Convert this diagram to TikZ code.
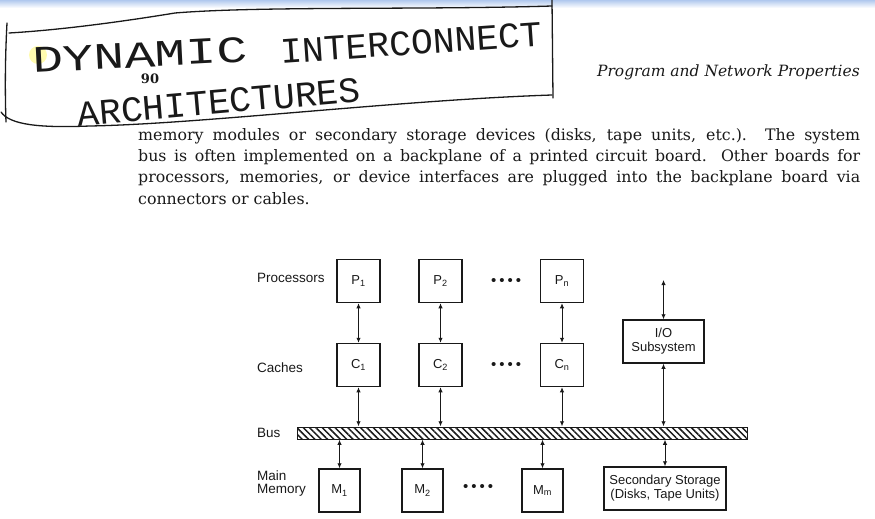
\documentclass[tikz,border=0pt]{standalone}
\usepackage{fontspec}
\usepackage{tikz}
\usetikzlibrary{arrows.meta, patterns.meta, positioning, calc}
\setmainfont{DejaVu Serif}
\newfontfamily\diagfont{Liberation Sans}
\newfontfamily\handfont{Liberation Mono}
\definecolor{ink}{RGB}{25,25,25}
\definecolor{bandblue}{RGB}{176,200,238}
\tikzset{
  box/.style={draw=ink, line width=1.5pt, minimum width=43pt, minimum height=43pt,
    inner sep=0pt, align=center, font={\diagfont\fontsize{13}{14}\selectfont}, text=ink},
  rowlabel/.style={anchor=west, inner sep=0pt, align=left, text=ink,
    font={\diagfont\fontsize{13.5}{13}\selectfont}},
  dotrow/.style={inner sep=0pt, text=ink, font={\diagfont\fontsize{15}{15}\selectfont}},
  link/.style={<->, draw=ink, line width=0.9pt},
  hand/.style={draw=ink, line width=1.3pt, line cap=round},
  handtext/.style={inner sep=0pt, text=ink},
}
\begin{document}
\begin{tikzpicture}[x=1pt, y=-1pt, >={Latex[length=5pt,width=4.5pt]}]
  \useasboundingbox (0,0) rectangle (875,519);
  % blue band of the scan
  \shade[top color=bandblue, bottom color=white] (0,0) rectangle (875,8);

  % handwritten title box
  \fill[yellow!70, opacity=0.45] (38,55) circle (9);
  \draw[hand] (7,23) .. controls (5,60) and (5,95) .. (6,122);
  \draw[hand] (9,33) .. controls (60,30) and (120,22) .. (175,13) .. controls (260,6) and (420,10) .. (552,6);
  \draw[hand] (552,0) -- (553,98);
  \draw[hand] (1,112) .. controls (10,125) and (40,128) .. (90,126) .. controls (200,124) and (400,100) .. (552,95);
  \node[handtext, rotate=3] (hand1) at (140,55)
    {\resizebox{215pt}{25pt}{\handfont DYNAMIC}};
  \node[handtext, rotate=4] (hand2) at (411,43)
    {\resizebox{262pt}{24pt}{\handfont INTERCONNECT}};
  \node[handtext, rotate=5] (hand3) at (219,102)
    {\resizebox{284pt}{24pt}{\handfont ARCHITECTURES}};

  % page head and text
  \node[inner sep=0pt, text=ink, font={\bfseries\fontsize{13}{13}\selectfont}] (pageno) at (150,79) {90};
  \node[anchor=east, inner sep=0pt, text=ink, font={\itshape\fontsize{15.5}{16}\selectfont}] (head) at (860,72)
    {Program and Network Properties};
  \node[anchor=north west, inner sep=0pt, text width=722pt, align=justify, text=ink,
    font={\fontsize{15.8}{21.3}\selectfont}] (body) at (138,128)
    {memory modules or secondary storage devices (disks, tape units, etc.).\ \ The system\linebreak
     bus is often implemented on a backplane of a printed circuit board. Other boards for\linebreak
     processors, memories, or device interfaces are plugged into the backplane board via\linebreak
     connectors or cables.};

  % row labels
  \node[rowlabel] (lproc) at (257,278) {Processors};
  \node[rowlabel] (lcache) at (257,368) {Caches};
  \node[rowlabel] (lbus) at (257,433) {Bus};
  \node[rowlabel] (lmem) at (257,484) {Main\\Memory};

  % processors and caches
  \node[box] (p1) at (358.5,281) {P\textsubscript{1}};
  \node[box] (p2) at (440.5,281) {P\textsubscript{2}};
  \node[box] (pn) at (562,281) {P\textsubscript{n}};
  \node[box] (c1) at (358.5,365) {C\textsubscript{1}};
  \node[box] (c2) at (440.5,365) {C\textsubscript{2}};
  \node[box] (cn) at (562,365) {C\textsubscript{n}};
  \node[dotrow] (pdots) at (506,282) {\textbullet\hspace{3pt}\textbullet\hspace{3pt}\textbullet\hspace{3pt}\textbullet};
  \node[dotrow] (cdots) at (506,366) {\textbullet\hspace{3pt}\textbullet\hspace{3pt}\textbullet\hspace{3pt}\textbullet};

  % I/O subsystem
  \node[box, minimum width=81pt] (io) at (663.5,341.5) {I/O\\Subsystem};
  \coordinate (ioup) at (663.5,280);

  % bus
  \node[draw=ink, line width=1pt, minimum width=450pt, minimum height=12pt, inner sep=0pt,
    pattern={Lines[angle=-45, distance=4.5pt, line width=1.5pt]}, pattern color=ink] (bus) at (522,433) {};

  % memories and secondary storage
  \node[box, minimum width=41pt] (m1) at (339.5,490.5) {M\textsubscript{1}};
  \node[box, minimum width=41pt] (m2) at (422.5,490.5) {M\textsubscript{2}};
  \node[box, minimum width=41pt] (mm) at (542.5,490.5) {M\textsubscript{m}};
  \node[dotrow] (mdots) at (478,488) {\textbullet\hspace{3pt}\textbullet\hspace{3pt}\textbullet\hspace{3pt}\textbullet};
  \node[box, minimum width=122pt] (ss) at (665,488.5) {Secondary Storage\\(Disks, Tape Units)};

  % connections
  \foreach \n in {1,2,n} {
    \draw[link] (p\n) -- (c\n);
    \draw[link] (c\n.south) -- (c\n.south |- bus.north);
  }
  \foreach \n in {1,2,m} {
    \draw[link] (m\n.north) -- (m\n.north |- bus.south);
  }
  \draw[link] (ioup) -- (io.north);
  \draw[link] (io.south) -- (io.south |- bus.north);
  \draw[link] (ss.north) -- (ss.north |- bus.south);
\end{tikzpicture}
\end{document}
